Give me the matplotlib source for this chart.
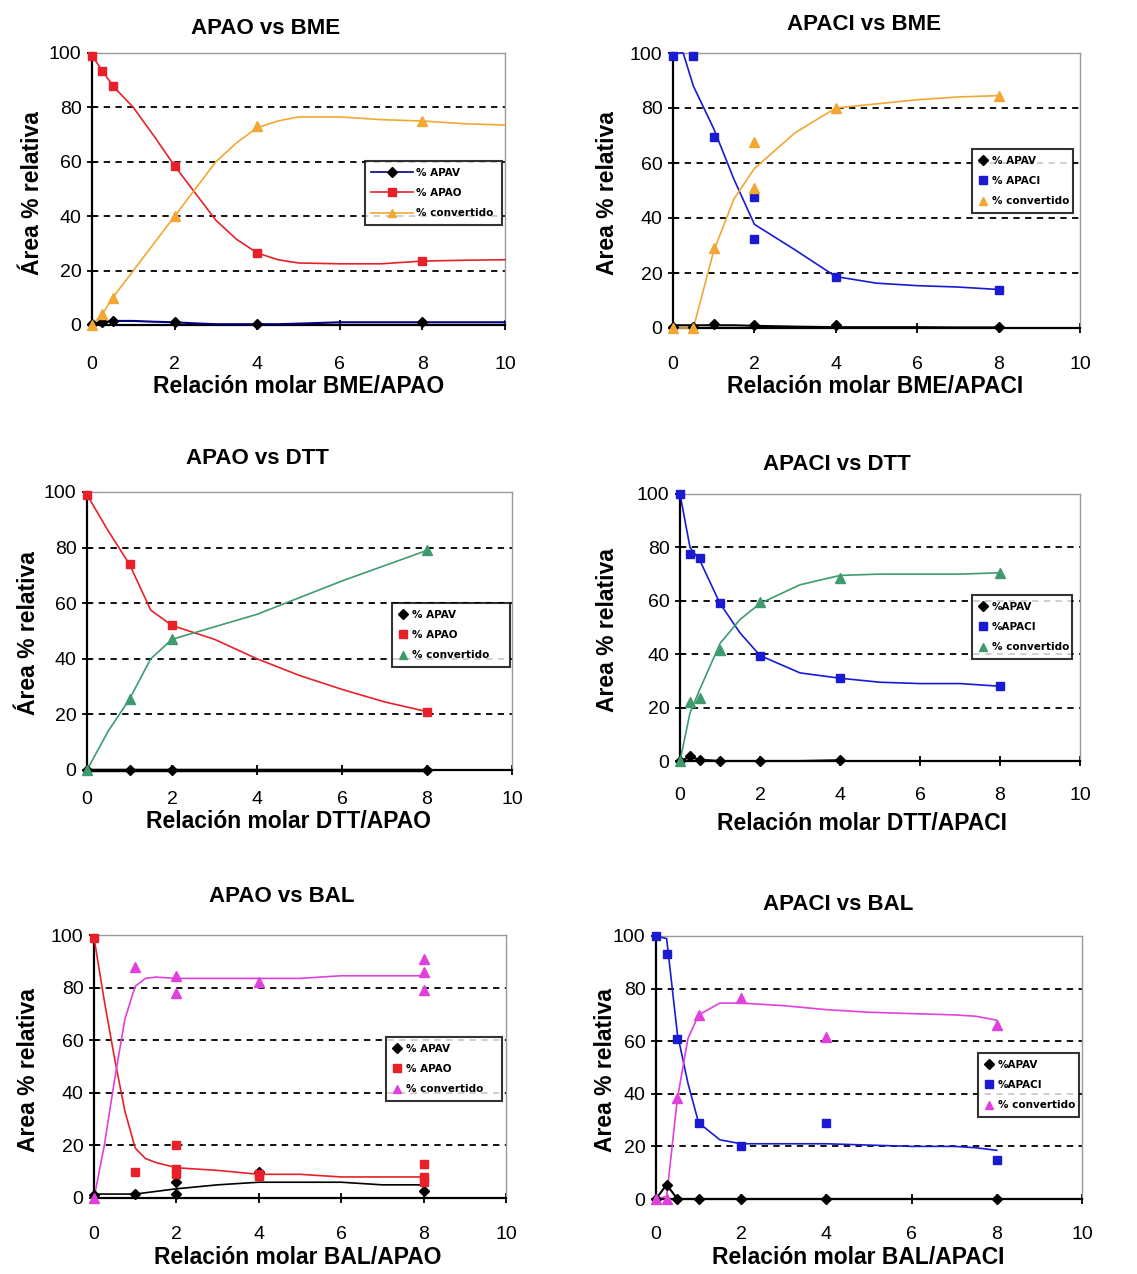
import matplotlib
matplotlib.use("Agg")
import matplotlib.pyplot as plt
from matplotlib.lines import Line2D

plt.rcParams['font.family'] = ['Liberation Sans', 'DejaVu Sans']

W, H = 1137, 1274

RED = '#e8202a'
ORANGE = '#f2a733'
NAVY = '#000080'
BLUE = '#1a1ad2'
GREEN = '#3f9b6e'
MAGENTA = '#e040dc'

# ---------- APAO vs BME ----------
bme_apao_x = [0, 0.25, 0.5, 2, 4, 8]
bme_apao_apav = [0.5, 1, 1.5, 1, 0.5, 1]
bme_apao_apao = [99, 93.5, 88, 58.5, 26.5, 23.5]
bme_apao_conv = [0, 4, 10, 40, 73, 75]
bme_apao_tx = [0, 0.25, 0.5, 1, 1.5, 2, 2.5, 3, 3.5, 4, 4.5, 5, 6, 7, 8, 9, 10]
bme_apao_t_apav = [0.5, 1, 1.5, 1.5, 1.2, 1, 0.6, 0.3, 0.3, 0.3, 0.3, 0.5, 1, 1, 1, 1, 1]
bme_apao_t_apao = [99, 93.5, 88, 80, 69.5, 58.5, 48.5, 38.5, 31.5, 26.5, 24, 22.8, 22.5, 22.5, 23.5, 23.8, 24]
bme_apao_t_conv = [0, 4, 10, 20, 30, 40, 50, 60, 67, 72.5, 75, 76.5, 76.5, 75.5, 75, 74, 73.5]

# ---------- APACI vs BME ----------
bme_apaci_x = [0, 0.5, 1, 2, 2, 4, 8]
bme_apaci_apaci = [99, 99, 69.5, 47.5, 32.5, 18.5, 14]
bme_apaci_conv = [0, 0, 29, 67.5, 51, 80, 84.5]
bme_apaci_apav_x = [0, 0.5, 1, 2, 4, 8]
bme_apaci_apav = [0.5, 0.5, 1.5, 1, 1, 0.5]
bme_apaci_tx = [0, 0.25, 0.5, 1, 1.5, 2, 3, 4, 5, 6, 7, 8]
bme_apaci_t_apav = [1, 1, 1, 1, 1, 0.8, 0.5, 0.3, 0.3, 0.3, 0.2, 0.2]
bme_apaci_t_apaci = [100, 100, 88, 72.5, 54, 37.7, 28.4, 18.7, 16.3, 15.4, 14.9, 14]
bme_apaci_t_conv = [0, 0, 0, 28, 47, 58, 71, 80, 81.5, 83, 84, 84.5]

# ---------- APAO vs DTT ----------
dtt_apao_x = [0, 1, 2, 8]
dtt_apao_apav = [0, 0, 0, 0]
dtt_apao_apao = [99, 74, 52, 21]
dtt_apao_conv = [0, 25.5, 47, 79]
dtt_apao_tx = [0, 0.5, 1, 1.5, 2, 3, 4, 5, 6, 7, 8]
dtt_apao_t_apav = [0, 0, 0, 0, 0, 0, 0, 0, 0, 0, 0]
dtt_apao_t_apao = [99, 86, 74, 57.5, 52, 47, 40, 34, 29, 24.5, 21]
dtt_apao_t_conv = [0, 14, 25.5, 40, 47, 51.5, 56, 62, 68, 73.5, 79]

# ---------- APACI vs DTT ----------
dtt_apaci_x = [0, 0.25, 0.5, 1, 2, 4, 8]
dtt_apaci_apaci = [100, 77.5, 76, 59, 39.5, 31, 28]
dtt_apaci_conv = [0, 22, 23.5, 41.5, 59.5, 68.5, 70.5]
dtt_apaci_apav_x = [0, 0.25, 0.5, 1, 2, 4]
dtt_apaci_apav = [0, 2, 0.5, 0, 0, 0.5]
dtt_apaci_tx = [0, 0.25, 0.5, 1, 1.5, 2, 3, 4, 5, 6, 7, 8]
dtt_apaci_t_apaci = [100, 80, 75, 59, 48, 39.5, 33, 31, 29.5, 29, 29, 28]
dtt_apaci_t_conv = [0, 18, 27, 44, 53, 59, 66, 69.5, 70, 70, 70, 70.5]
dtt_apaci_t_apav = [0, 1.5, 0.5, 0, 0, 0, 0, 0.3]

# ---------- APAO vs BAL ----------
bal_apao_apao_x = [0, 1, 2, 2, 2, 4, 4, 8, 8, 8]
bal_apao_apao = [99, 10, 20, 11, 9, 8.5, 9, 13, 8, 6]
bal_apao_conv_x = [0, 1, 2, 2, 4, 8, 8, 8]
bal_apao_conv = [0, 88, 84.5, 78, 82, 91, 86, 79]
bal_apao_apav_x = [0, 1, 2, 2, 4, 8]
bal_apao_apav = [1, 1.5, 6, 1.5, 10, 2.5]
bal_apao_tx = [0, 0.25, 0.5, 0.75, 1, 1.25, 1.5, 2, 3, 4, 5, 6, 7, 8]
bal_apao_t_apav = [1.5, 1.5, 1.5, 1.5, 1.5, 2, 2.5, 3.5, 5, 6, 6, 6, 5, 5]
bal_apao_t_apao = [99, 75, 53, 33, 19, 15, 13.5, 11.5, 10.5, 9, 9, 8, 8, 8]
bal_apao_t_conv = [0, 20, 45, 68, 80.5, 83.5, 84, 83.5, 83.5, 83.5, 83.5, 84.5, 84.5, 84.5]

# ---------- APACI vs BAL ----------
bal_apaci_x = [0, 0.25, 0.5, 1, 2, 4, 8]
bal_apaci_apaci = [100, 93, 61, 29, 20, 29, 15]
bal_apaci_conv = [0, 0, 38.5, 70, 76.5, 61.5, 66]
bal_apaci_apav = [0, 5.5, 0, 0, 0, 0, 0]
bal_apaci_tx = [0, 0.25, 0.5, 0.75, 1, 1.5, 2, 3, 4, 5, 6, 7, 7.5, 8]
bal_apaci_t_apaci = [100, 99, 63, 44, 29, 22.5, 21, 21, 21, 20.5, 20, 20, 19.5, 18.5]
bal_apaci_t_conv = [0, 1, 38, 61, 70, 74.5, 74.5, 73.5, 72, 71, 70.5, 70, 69.5, 68]

fig = plt.figure(figsize=(W / 100, H / 100), dpi=100)


def make_axes(left, right, top, bottom, xpad):
    ax = fig.add_axes([left / W, 1 - bottom / H, (right - left) / W, (bottom - top) / H])
    ax.set_xlim(0, 10)
    ax.set_ylim(0, 100)
    ax.set_xticks([0, 2, 4, 6, 8, 10])
    ax.set_yticks([0, 20, 40, 60, 80, 100])
    for y in [20, 40, 60, 80]:
        ax.axhline(y, color='black', lw=1.3, ls=(0, (3.5, 3)), zorder=1)
    for s in ['left', 'bottom']:
        ax.spines[s].set_linewidth(1.6)
        ax.spines[s].set_color('black')
    for s in ['top', 'right']:
        ax.spines[s].set_linewidth(1.0)
        ax.spines[s].set_color('#9a9a9a')
    ax.tick_params(direction='inout', length=7, width=1.3, labelsize=14)
    ax.tick_params(axis='x', pad=xpad)
    ax.tick_params(axis='y', pad=4)
    return ax


def text_px(x, y, s, size, rot=0, weight='bold'):
    fig.text(x / W, 1 - y / H, s, ha='center', va='center', fontsize=size,
             fontweight=weight, rotation=rot)


def pts(ax, x, y, color, marker, ms):
    ax.plot(x, y, ls='none', marker=marker, color=color, ms=ms, clip_on=False, zorder=4)


def curve(ax, x, y, color, lw=1.2):
    ax.plot(x, y, color=color, lw=lw, clip_on=False, zorder=3)


def legend_px(ax, rect, box, handles, labels, hl=1.0):
    l, r, t, b = rect
    bl, br, bt, bb = box
    aw, ah = r - l, b - t
    x0 = (bl - l) / aw
    y0 = (b - bb) / ah
    leg = ax.legend(handles, labels, bbox_to_anchor=(x0, y0, (br - bl) / aw, (bb - bt) / ah),
                    loc='center left', mode='expand', fontsize=7.5, frameon=True,
                    fancybox=False, borderpad=0.6, labelspacing=1.0, handletextpad=0.3,
                    handlelength=hl, borderaxespad=0)
    leg.get_frame().set_edgecolor('black')
    leg.get_frame().set_linewidth(1.5)
    for t_ in leg.get_texts():
        t_.set_fontweight('bold')
        t_.set_family('DejaVu Sans')
    leg.set_zorder(6)


def mk(color, marker, line=False, ms=6):
    return Line2D([], [], color=color, marker=marker, ms=ms, ls='-' if line else 'none', lw=1.2)


# Panel 1
r1 = (92, 505, 53, 325)
ax = make_axes(*r1, xpad=18.5)
curve(ax, bme_apao_tx, bme_apao_t_apav, NAVY, 1.5)
curve(ax, bme_apao_tx, bme_apao_t_apao, RED)
curve(ax, bme_apao_tx, bme_apao_t_conv, ORANGE)
pts(ax, bme_apao_x, bme_apao_apav, 'black', 'D', 5)
pts(ax, bme_apao_x, bme_apao_apao, RED, 's', 6)
pts(ax, bme_apao_x, bme_apao_conv, ORANGE, '^', 7)
h = [Line2D([], [], color=NAVY, marker='D', mfc='black', mec='black', ms=5, lw=1.2),
     mk(RED, 's', True), mk(ORANGE, '^', True)]
legend_px(ax, r1, (365, 502, 157, 229), h, ['% APAV', '% APAO', '% convertido'], hl=4.0)
text_px(266, 28, 'APAO vs BME', 16)
text_px(299, 387, 'Relación molar BME/APAO', 16.5)
text_px(33, 193, 'Área % relativa', 16.5, rot=90)

# Panel 2
r2 = (673, 1080, 53, 328)
ax = make_axes(*r2, xpad=16.5)
curve(ax, bme_apaci_tx, bme_apaci_t_apav, 'black', 1.5)
curve(ax, bme_apaci_tx, bme_apaci_t_apaci, BLUE)
curve(ax, bme_apaci_tx, bme_apaci_t_conv, ORANGE)
pts(ax, bme_apaci_apav_x, bme_apaci_apav, 'black', 'D', 5)
pts(ax, bme_apaci_x, bme_apaci_apaci, BLUE, 's', 6)
pts(ax, bme_apaci_x, bme_apaci_conv, ORANGE, '^', 7)
legend_px(ax, r2, (972, 1073, 145, 217), [mk('black', 'D', ms=5), mk(BLUE, 's'), mk(ORANGE, '^')],
          ['% APAV', '% APACI', '% convertido'])
text_px(864, 25, 'APACI vs BME', 16)
text_px(875, 387, 'Relación molar BME/APACI', 16.5)
text_px(607, 193, 'Area % relativa', 16.5, rot=90)

# Panel 3
r3 = (87, 512, 492, 770)
ax = make_axes(*r3, xpad=11.5)
curve(ax, dtt_apao_tx, dtt_apao_t_apav, 'black', 2.5)
curve(ax, dtt_apao_tx, dtt_apao_t_apao, RED)
curve(ax, dtt_apao_tx, dtt_apao_t_conv, GREEN)
pts(ax, dtt_apao_x, dtt_apao_apav, 'black', 'D', 5)
pts(ax, dtt_apao_x, dtt_apao_apao, RED, 's', 6)
pts(ax, dtt_apao_x, dtt_apao_conv, GREEN, '^', 7)
legend_px(ax, r3, (392, 510, 597, 673), [mk('black', 'D', ms=5), mk(RED, 's'), mk(GREEN, '^')],
          ['% APAV', '% APAO', '% convertido'])
text_px(257, 458, 'APAO vs DTT', 16)
text_px(288, 822, 'Relación molar DTT/APAO', 16.5)
text_px(29, 633, 'Área % relativa', 16.5, rot=90)

# Panel 4
r4 = (680, 1080, 494, 761)
ax = make_axes(*r4, xpad=15)
curve(ax, dtt_apaci_tx[:len(dtt_apaci_t_apav)], dtt_apaci_t_apav, 'black', 1.5)
curve(ax, dtt_apaci_tx, dtt_apaci_t_apaci, BLUE)
curve(ax, dtt_apaci_tx, dtt_apaci_t_conv, GREEN)
pts(ax, dtt_apaci_apav_x, dtt_apaci_apav, 'black', 'D', 5)
pts(ax, dtt_apaci_x, dtt_apaci_apaci, BLUE, 's', 6)
pts(ax, dtt_apaci_x, dtt_apaci_conv, GREEN, '^', 7)
legend_px(ax, r4, (972, 1072, 592, 662), [mk('black', 'D', ms=5), mk(BLUE, 's'), mk(GREEN, '^')],
          ['%APAV', '%APACI', '% convertido'])
text_px(837, 465, 'APACI vs DTT', 16)
text_px(862, 823, 'Relación molar DTT/APACI', 16.5)
text_px(607, 630, 'Area % relativa', 16.5, rot=90)

# Panel 5
r5 = (94, 506, 935, 1198)
ax = make_axes(*r5, xpad=16.5)
curve(ax, bal_apao_tx, bal_apao_t_apav, 'black')
curve(ax, bal_apao_tx, bal_apao_t_apao, RED)
curve(ax, bal_apao_tx, bal_apao_t_conv, MAGENTA)
pts(ax, bal_apao_apav_x, bal_apao_apav, 'black', 'D', 5)
pts(ax, bal_apao_apao_x, bal_apao_apao, RED, 's', 6)
pts(ax, bal_apao_conv_x, bal_apao_conv, MAGENTA, '^', 7)
legend_px(ax, r5, (386, 502, 1030, 1108), [mk('black', 'D', ms=5), mk(RED, 's'), mk(MAGENTA, '^')],
          ['% APAV', '% APAO', '% convertido'])
text_px(282, 897, 'APAO vs BAL', 16)
text_px(298, 1258, 'Relación molar BAL/APAO', 16.5)
text_px(29, 1070, 'Area % relativa', 16.5, rot=90)

# Panel 6
r6 = (656, 1082, 936, 1199)
ax = make_axes(*r6, xpad=15.8)
curve(ax, bal_apaci_x, bal_apaci_apav, 'black', 1.5)
curve(ax, bal_apaci_tx, bal_apaci_t_apaci, BLUE)
curve(ax, bal_apaci_tx, bal_apaci_t_conv, MAGENTA)
pts(ax, bal_apaci_x, bal_apaci_apav, 'black', 'D', 5)
pts(ax, bal_apaci_x, bal_apaci_apaci, BLUE, 's', 6)
pts(ax, bal_apaci_x, bal_apaci_conv, MAGENTA, '^', 7)
legend_px(ax, r6, (978, 1079, 1050, 1120), [mk('black', 'D', ms=5), mk(BLUE, 's'), mk(MAGENTA, '^')],
          ['%APAV', '%APACI', '% convertido'])
text_px(838, 905, 'APACI vs BAL', 16)
text_px(858, 1258, 'Relación molar BAL/APACI', 16.5)
text_px(606, 1070, 'Area % relativa', 16.5, rot=90)

fig.savefig('out.png', dpi=100)
